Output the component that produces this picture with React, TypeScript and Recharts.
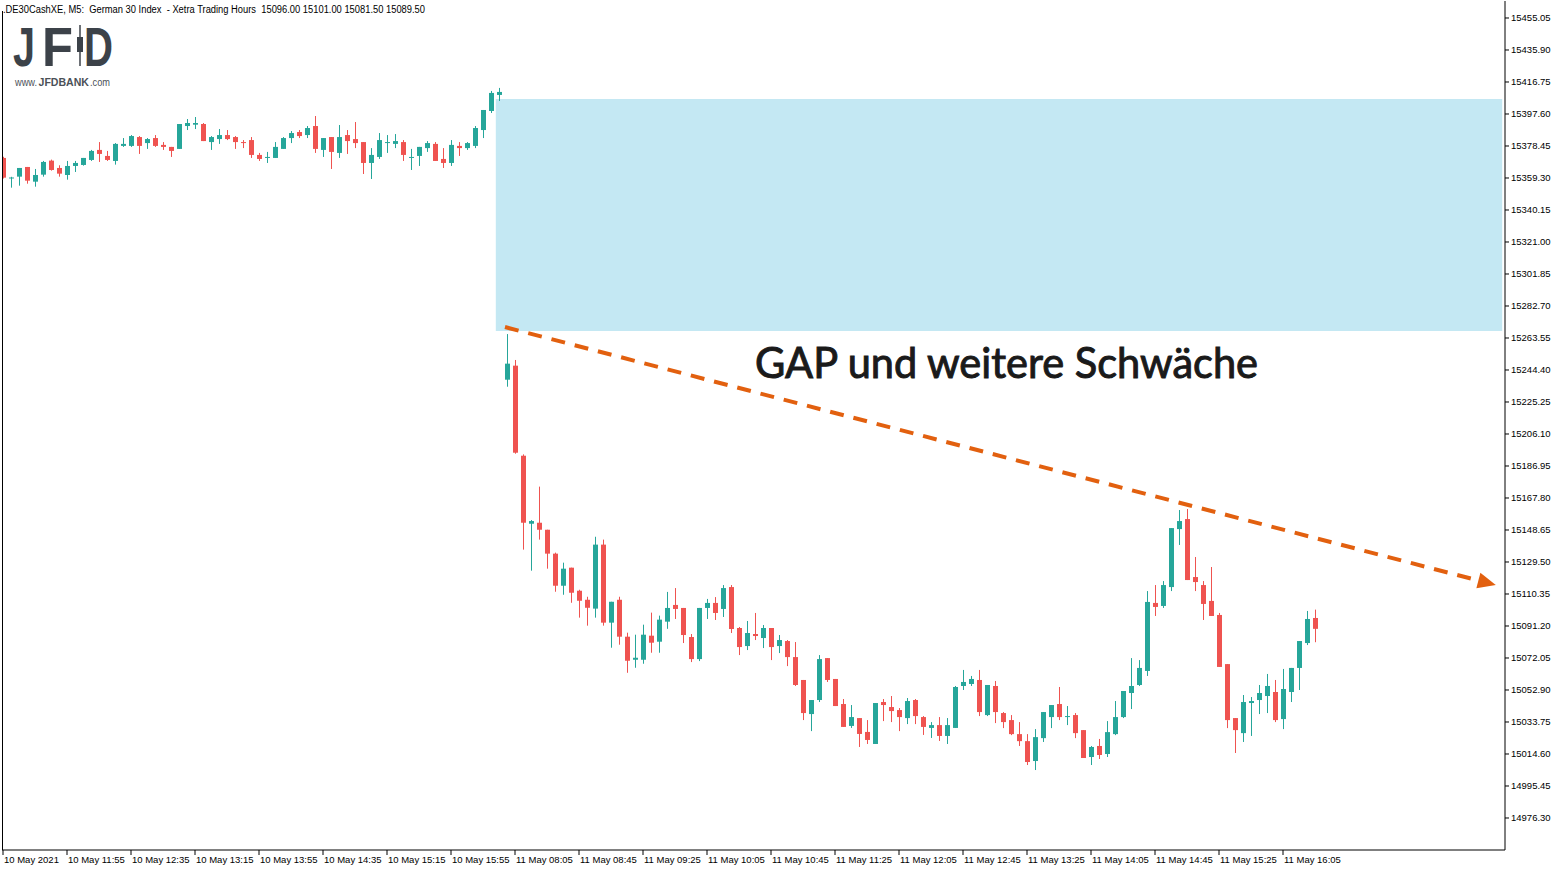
import { ComposedChart, Bar, XAxis, YAxis, ReferenceArea, ReferenceLine } from 'recharts';

// DE30 M5 candles, 10 May 11:15 -> 16:25, then 11 May 08:00 -> 16:25
const opens = [
  15371.3, 15359.0, 15360.1, 15365.9, 15357.1, 15361.3, 15369.7, 15365.3, 15361.1, 15366.5,
  15367.1, 15370.1, 15376.1, 15372.5, 15369.5, 15378.5, 15378.5, 15383.8, 15380.2, 15383.2,
  15379.1, 15377.9, 15376.7, 15390.4, 15391.2, 15391.6, 15380.8, 15382.6, 15385.0, 15383.8,
  15380.8, 15382.0, 15373.1, 15371.5, 15371.3, 15376.7, 15383.2, 15386.8, 15385.0, 15390.4,
  15376.1, 15383.8, 15374.3, 15385.0, 15382.6, 15380.8, 15368.3, 15371.9, 15380.4, 15379.7,
  15380.8, 15371.5, 15372.5, 15377.2, 15379.7, 15370.7, 15368.3, 15378.5, 15377.2, 15378.5,
  15388.0, 15399.4, 15409.0,
  15238.6, 15247.0, 15193.1, 15152.4, 15153.0, 15148.8, 15134.5,
  15115.3, 15126.1, 15112.3, 15106.9, 15101.6, 15139.9, 15093.2, 15106.9, 15084.8, 15071.0,
  15071.0, 15085.4, 15081.8, 15093.8, 15103.8, 15102.0, 15084.6, 15071.4, 15102.0, 15105.0,
  15101.4, 15114.5, 15090.0, 15079.2, 15086.4, 15084.0, 15090.0, 15079.2, 15082.2, 15072.6,
  15058.9, 15038.5, 15046.9, 15072.0, 15059.5, 15044.5, 15031.4, 15036.1, 15027.8, 15020.6,
  15045.7, 15042.7, 15040.9, 15036.1, 15046.9, 15036.7, 15030.2, 15031.9, 15025.4, 15030.2,
  15055.3, 15056.5, 15058.9, 15037.9, 15055.3, 15039.1, 15034.9, 15026.5, 15022.3, 15010.4,
  15024.1, 15036.7, 15044.5, 15036.9, 15037.9, 15028.9, 15012.8, 15019.4, 15014.6, 15026.5,
  15036.7, 15051.1, 15055.9, 15064.3, 15105.0, 15103.2, 15114.5, 15149.2, 15155.2, 15120.5,
  15115.7, 15106.2, 15097.8, 15068.4, 15036.1, 15027.1, 15045.1, 15046.9, 15049.3, 15051.7,
  15035.5, 15051.7, 15066.1, 15081.0, 15096.0,
];

const highs = [
  15372.0, 15360.0, 15365.3, 15365.9, 15364.7, 15369.5, 15370.3, 15366.9, 15369.5, 15369.5,
  15371.3, 15376.1, 15380.8, 15375.5, 15380.2, 15383.2, 15385.0, 15384.4, 15383.2, 15385.0,
  15380.8, 15377.9, 15391.6, 15394.6, 15395.8, 15392.2, 15384.4, 15388.6, 15388.0, 15384.4,
  15382.0, 15383.8, 15374.3, 15374.9, 15380.8, 15383.8, 15387.4, 15388.0, 15390.4, 15396.4,
  15383.2, 15383.8, 15391.0, 15388.0, 15392.8, 15380.8, 15377.2, 15386.2, 15385.0, 15385.6,
  15382.0, 15376.7, 15377.9, 15381.4, 15380.8, 15377.2, 15382.0, 15380.8, 15380.8, 15390.4,
  15400.0, 15411.4, 15413.2,
  15265.9, 15250.4, 15193.9, 15154.6, 15174.6, 15148.8, 15135.1,
  15129.1, 15126.1, 15112.9, 15108.7, 15144.6, 15142.9, 15105.7, 15108.7, 15087.2, 15086.0,
  15092.0, 15099.2, 15097.4, 15111.6, 15113.9, 15102.0, 15086.4, 15102.0, 15107.4, 15108.5,
  15115.7, 15115.7, 15090.6, 15094.2, 15099.0, 15091.8, 15090.0, 15085.8, 15082.8, 15081.6,
  15058.9, 15046.9, 15073.8, 15072.0, 15059.5, 15047.5, 15043.9, 15036.1, 15034.9, 15045.1,
  15047.5, 15049.3, 15042.1, 15048.1, 15047.5, 15037.3, 15033.7, 15036.7, 15036.1, 15055.3,
  15064.9, 15061.3, 15064.9, 15055.9, 15058.3, 15039.7, 15037.9, 15033.7, 15026.5, 15029.5,
  15039.7, 15043.9, 15054.7, 15043.3, 15039.1, 15028.9, 15019.4, 15023.6, 15034.3, 15046.3,
  15052.3, 15072.0, 15070.8, 15112.1, 15115.7, 15118.1, 15149.8, 15160.6, 15161.2, 15132.5,
  15118.1, 15126.5, 15099.0, 15068.4, 15036.1, 15049.9, 15048.7, 15055.9, 15062.5, 15058.9,
  15065.5, 15066.1, 15082.2, 15100.2, 15101.0,
];

const lows = [
  15359.0, 15353.5, 15354.7, 15355.9, 15354.1, 15360.1, 15363.7, 15360.1, 15358.3, 15362.9,
  15366.7, 15369.5, 15368.9, 15369.5, 15367.3, 15377.9, 15377.9, 15373.7, 15376.7, 15377.9,
  15376.1, 15371.9, 15376.7, 15388.0, 15388.6, 15381.4, 15376.1, 15379.7, 15382.0, 15376.7,
  15377.2, 15371.3, 15369.5, 15368.3, 15371.3, 15376.7, 15380.2, 15383.2, 15383.2, 15374.3,
  15371.9, 15364.7, 15371.3, 15373.7, 15377.2, 15361.7, 15358.7, 15370.7, 15374.3, 15377.2,
  15369.5, 15364.1, 15366.5, 15374.9, 15369.5, 15365.3, 15366.5, 15372.5, 15376.1, 15377.2,
  15383.2, 15398.2, 15405.4,
  15234.4, 15194.3, 15136.9, 15124.3, 15142.9, 15125.5, 15111.7,
  15109.9, 15105.1, 15096.2, 15091.4, 15096.2, 15091.4, 15078.2, 15080.0, 15063.2, 15066.2,
  15068.6, 15075.2, 15075.2, 15089.5, 15095.4, 15081.0, 15069.6, 15070.2, 15095.4, 15094.8,
  15096.6, 15087.0, 15073.8, 15076.8, 15082.8, 15078.0, 15070.8, 15075.0, 15067.2, 15055.3,
  15034.9, 15028.3, 15045.7, 15057.7, 15043.3, 15030.8, 15030.2, 15018.8, 15020.6, 15020.6,
  15034.3, 15033.7, 15028.3, 15032.5, 15032.5, 15026.0, 15024.2, 15022.4, 15020.6, 15030.2,
  15052.9, 15055.3, 15037.3, 15037.3, 15033.1, 15030.1, 15025.9, 15019.4, 15008.0, 15005.0,
  15021.8, 15030.1, 15034.9, 15031.9, 15024.1, 15012.2, 15008.0, 15011.6, 15012.8, 15025.9,
  15036.1, 15041.5, 15055.3, 15061.3, 15097.2, 15102.0, 15112.1, 15139.7, 15118.7, 15112.1,
  15094.8, 15097.2, 15066.7, 15030.1, 15015.2, 15021.8, 15025.4, 15038.5, 15039.1, 15033.7,
  15029.5, 15045.7, 15052.9, 15079.8, 15081.5,
];

const closes = [
  15359.5, 15359.6, 15365.3, 15357.7, 15361.1, 15368.9, 15364.1, 15361.9, 15366.5, 15368.3,
  15371.3, 15375.5, 15373.7, 15370.1, 15379.7, 15379.7, 15384.4, 15378.5, 15382.6, 15378.5,
  15377.9, 15375.5, 15391.6, 15392.2, 15392.2, 15381.4, 15383.8, 15385.0, 15382.6, 15380.8,
  15380.4, 15373.1, 15370.7, 15371.9, 15377.9, 15383.2, 15386.2, 15384.4, 15389.2, 15376.7,
  15383.2, 15374.9, 15383.8, 15381.4, 15380.2, 15368.3, 15373.1, 15382.0, 15380.8, 15381.4,
  15373.1, 15371.9, 15377.9, 15380.2, 15369.5, 15368.3, 15379.1, 15377.2, 15380.2, 15389.2,
  15400.0, 15410.2, 15410.8,
  15248.2, 15194.9, 15153.0, 15154.0, 15148.8, 15134.5, 15115.3,
  15125.5, 15111.1, 15106.3, 15102.1, 15139.9, 15093.2, 15105.7, 15084.8, 15070.4, 15072.2,
  15086.0, 15081.2, 15095.0, 15102.0, 15101.4, 15085.8, 15071.4, 15102.0, 15105.0, 15099.0,
  15113.9, 15089.4, 15078.6, 15087.0, 15085.2, 15090.0, 15078.6, 15082.8, 15072.6, 15055.9,
  15039.1, 15046.9, 15071.4, 15058.9, 15043.3, 15030.8, 15036.7, 15026.6, 15023.0, 15045.1,
  15043.9, 15040.3, 15036.7, 15046.3, 15037.3, 15030.8, 15031.9, 15025.4, 15031.9, 15054.7,
  15057.7, 15059.5, 15039.7, 15055.9, 15039.7, 15033.7, 15026.5, 15022.3, 15009.8, 15024.7,
  15039.7, 15043.9, 15036.7, 15037.3, 15027.1, 15012.2, 15018.8, 15014.0, 15027.7, 15036.7,
  15052.3, 15055.3, 15066.1, 15105.6, 15102.6, 15115.7, 15149.8, 15154.0, 15118.7, 15117.5,
  15104.4, 15097.2, 15066.7, 15034.9, 15028.9, 15045.7, 15046.3, 15051.1, 15055.3, 15034.9,
  15053.5, 15066.1, 15082.2, 15095.4, 15089.5,
];

// time axis: one label every 8 bars
const xTickBars = [0, 8, 16, 24, 32, 40, 48, 56, 64, 72, 80, 88, 96, 104, 112, 120, 128, 136, 144, 152, 160];
const xTickLabels = [
  '10 May 2021', '10 May 11:55', '10 May 12:35', '10 May 13:15', '10 May 13:55', '10 May 14:35',
  '10 May 15:15', '10 May 15:55', '11 May 08:05', '11 May 08:45', '11 May 09:25', '11 May 10:05',
  '11 May 10:45', '11 May 11:25', '11 May 12:05', '11 May 12:45', '11 May 13:25', '11 May 14:05',
  '11 May 14:45', '11 May 15:25', '11 May 16:05',
];

const priceTicks = [
  15455.05, 15435.9, 15416.75, 15397.6, 15378.45, 15359.3, 15340.15, 15321.0, 15301.85, 15282.7,
  15263.55, 15244.4, 15225.25, 15206.1, 15186.95, 15167.8, 15148.65, 15129.5, 15110.35, 15091.2,
  15072.05, 15052.9, 15033.75, 15014.6, 14995.45, 14976.3,
];

// gap zone and falling trend line (bar index / price)
const gapZone = { x1: 61.6, x2: 187.4, top: 15406.6, bottom: 15267.7 };
const trendLine = [
  { x: 62.75, y: 15270.1 },
  { x: 186.6, y: 15115.7 },
];

const UP = '#26a69a';
const DOWN = '#ef5350';
const ORANGE = '#e2600f';
const LOGO = '#3c4249';
const AXIS_FONT = '"Liberation Sans", Arial, sans-serif';

const W = 1563;
const H = 871;
const PLOT_RIGHT = 1505;
const PLOT_BOTTOM = 850;

const data = opens.map((o, i) => ({ i, o, h: highs[i], l: lows[i], c: closes[i] }));

const Candle = (props: any) => {
  const { x, y, width, height, payload } = props;
  const { o, h, l, c } = payload;
  const color = c >= o ? UP : DOWN;
  const top = Math.min(y, y + height);
  const hh = Math.abs(height);
  const k = h - l > 0 ? hh / (h - l) : 0;
  const bodyTop = top + (h - Math.max(o, c)) * k;
  const bodyBot = top + (h - Math.min(o, c)) * k;
  const cx = Math.round(x + width / 2) + 0.5;
  return (
    <g>
      <line x1={cx} x2={cx} y1={top} y2={top + hh} stroke={color} strokeWidth={1} />
      <rect
        x={cx - 2.5}
        y={bodyTop}
        width={5}
        height={Math.max(1, bodyBot - bodyTop)}
        fill={color}
      />
    </g>
  );
};

const TimeTick = (props: any) => {
  const { x, payload } = props;
  const idx = xTickBars.indexOf(payload.value);
  return (
    <g>
      <line x1={x} x2={x} y1={PLOT_BOTTOM} y2={PLOT_BOTTOM + 5} stroke="#000" />
      <text x={x + 1} y={PLOT_BOTTOM + 13} fontSize={9.5} fontFamily={AXIS_FONT} fill="#000">
        {xTickLabels[idx]}
      </text>
    </g>
  );
};

const PriceTick = (props: any) => {
  const { y, payload } = props;
  return (
    <g>
      <line x1={PLOT_RIGHT} x2={PLOT_RIGHT + 4} y1={y} y2={y} stroke="#000" />
      <text x={PLOT_RIGHT + 6} y={y + 3.5} fontSize={9.5} fontFamily={AXIS_FONT} fill="#000">
        {Number(payload.value).toFixed(2)}
      </text>
    </g>
  );
};

const TrendArrow = (props: any) => {
  const { x1, y1, x2, y2 } = props;
  const dx = x2 - x1;
  const dy = y2 - y1;
  const len = Math.hypot(dx, dy);
  const ux = dx / len;
  const uy = dy / len;
  const headLen = 18;
  const headW = 8;
  const bx = x2 - ux * headLen;
  const by = y2 - uy * headLen;
  return (
    <g>
      <line x1={x1} y1={y1} x2={bx + ux * 2} y2={by + uy * 2} stroke={ORANGE} strokeWidth={4} strokeDasharray="14 10" />
      <polygon
        points={`${x2},${y2} ${bx - uy * headW},${by + ux * headW} ${bx + uy * headW},${by - ux * headW}`}
        fill={ORANGE}
      />
    </g>
  );
};

export default function App() {
  return (
    <div style={{ position: 'absolute', left: 0, top: 0, width: W, height: H, background: '#fff' }}>
      <ComposedChart width={W} height={H} data={data} margin={{ top: 1, right: 0, bottom: 0, left: 2 }}>
        <XAxis
          type="number"
          dataKey="i"
          domain={[-0.125, 187.75]}
          allowDataOverflow
          ticks={xTickBars}
          interval={0}
          tick={<TimeTick />}
          tickLine={false}
          axisLine={{ stroke: '#000' }}
          height={21}
        />
        <YAxis
          orientation="right"
          type="number"
          domain={[14957.15, 15465.22]}
          allowDataOverflow
          ticks={priceTicks}
          interval={0}
          tick={<PriceTick />}
          tickLine={false}
          axisLine={{ stroke: '#000' }}
          width={58}
        />
        <ReferenceArea
          x1={gapZone.x1}
          x2={gapZone.x2}
          y1={gapZone.bottom}
          y2={gapZone.top}
          fill="#c4e8f3"
          fillOpacity={1}
          stroke="none"
        />
        <Bar dataKey={(d: any) => [d.l, d.h]} barSize={5} shape={<Candle />} isAnimationActive={false} />
        <ReferenceLine segment={trendLine} shape={TrendArrow} ifOverflow="visible" />
      </ComposedChart>
      <svg
        width={W}
        height={H}
        style={{ position: 'absolute', left: 0, top: 0, pointerEvents: 'none' }}
      >
        <line x1={2.5} x2={2.5} y1={11} y2={PLOT_BOTTOM} stroke="#000" />
        <text
          x={3}
          y={13}
          fontSize={10}
          fontFamily={AXIS_FONT}
          fill="#000"
          textLength={422}
          lengthAdjust="spacingAndGlyphs"
          style={{ whiteSpace: 'pre' }}
        >
          {'.DE30CashXE, M5:  German 30 Index  - Xetra Trading Hours  15096.00 15101.00 15081.50 15089.50'}
        </text>
        <line x1={80} x2={80} y1={25} y2={66} stroke={LOGO} strokeWidth={1.5} />
        <rect x={77} y={37} width={6} height={15} fill={LOGO} />
        <g fill={LOGO} fontFamily={AXIS_FONT} fontWeight={700} fontSize={55}>
          <text x={13} y={65.5} textLength={22} lengthAdjust="spacingAndGlyphs">J</text>
          <text x={42} y={65.5} textLength={31} lengthAdjust="spacingAndGlyphs">F</text>
          <text x={84} y={65.5} textLength={29} lengthAdjust="spacingAndGlyphs">D</text>
        </g>
        <g fontSize={10} fontFamily={AXIS_FONT} fill="#4b5057">
          <text x={15} y={86} textLength={22} lengthAdjust="spacingAndGlyphs">www.</text>
          <text x={38.5} y={86} fontWeight={700} textLength={50.5} lengthAdjust="spacingAndGlyphs">JFDBANK</text>
          <text x={90} y={86} textLength={20} lengthAdjust="spacingAndGlyphs">.com</text>
        </g>
        <text
          x={755}
          y={378}
          fontSize={43}
          fontFamily="Lato, sans-serif"
          fill="#1a1a1a"
          stroke="#1a1a1a"
          strokeWidth={1}
          textLength={503}
          lengthAdjust="spacingAndGlyphs"
        >
          GAP und weitere Schwäche
        </text>
      </svg>
    </div>
  );
}
